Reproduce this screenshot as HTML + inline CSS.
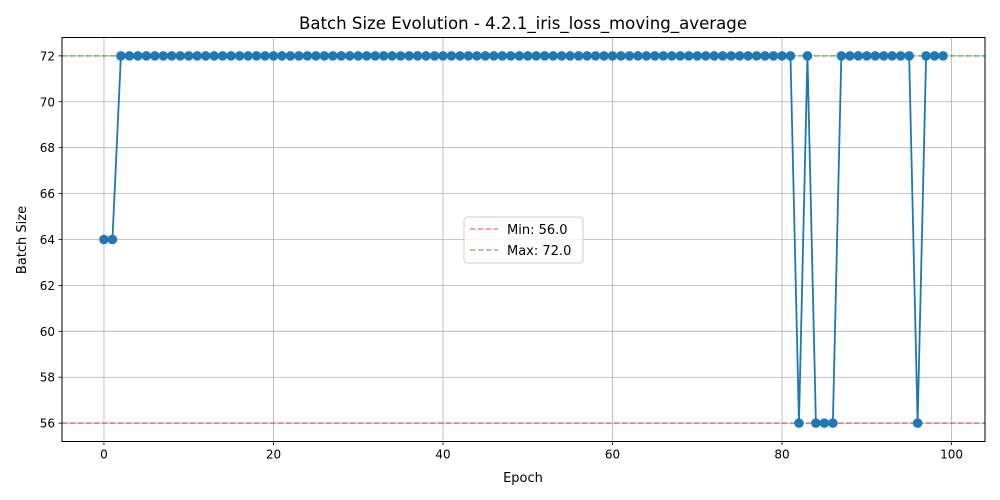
<!DOCTYPE html>
<html><head><meta charset="utf-8"><style>
body{margin:0;background:#fff;}
svg{display:block;font-family:"DejaVu Sans","Liberation Sans",sans-serif;}
</style></head><body>
<svg id="chart" width="1000" height="500" viewBox="0 0 1000 500" xmlns="http://www.w3.org/2000/svg">
<rect width="1000" height="500" fill="#fff"/>
<g id="grid"></g>
<g id="refs"></g>
<g id="series"></g>
<rect x="62" y="37.5" width="923" height="404" fill="none" stroke="#000" stroke-width="1"/>
<g id="axes" font-size="12" fill="#000"></g>
<text x="523" y="29" text-anchor="middle" font-size="16.6">Batch Size Evolution - 4.2.1_iris_loss_moving_average</text>
<text x="523" y="482" text-anchor="middle" font-size="13">Epoch</text>
<text transform="translate(26,240) rotate(-90)" text-anchor="middle" font-size="13">Batch Size</text>
<g>
<rect x="464" y="217" width="119" height="46" rx="3" fill="#fff" fill-opacity="0.8" stroke="#ccc"/>
<line x1="470" y1="229" x2="498" y2="229" stroke="#ff0000" stroke-opacity="0.5" stroke-width="1.5" stroke-dasharray="5.5,2.5"/>
<text x="507" y="234" font-size="13">Min: 56.0</text>
<line x1="470" y1="250" x2="498" y2="250" stroke="#008000" stroke-opacity="0.5" stroke-width="1.5" stroke-dasharray="5.5,2.5"/>
<text x="507" y="255" font-size="13">Max: 72.0</text>
</g>
</svg>
<script>
const epochs = Array.from({length:100},(_,i)=>i);
const batchSizes = [64,64,72,72,72,72,72,72,72,72,72,72,72,72,72,72,72,72,72,72,
72,72,72,72,72,72,72,72,72,72,72,72,72,72,72,72,72,72,72,72,
72,72,72,72,72,72,72,72,72,72,72,72,72,72,72,72,72,72,72,72,
72,72,72,72,72,72,72,72,72,72,72,72,72,72,72,72,72,72,72,72,
72,72,56,72,56,56,56,72,72,72,72,72,72,72,72,72,56,72,72,72];
const xTicks = [0,20,40,60,80,100];
const yTicks = [56,58,60,62,64,66,68,70,72];
const minVal = 56, maxVal = 72;
const NS="http://www.w3.org/2000/svg";
const L=62,R=985,T=37.5,B=441.5;
const xMin=-4.95,xMax=103.95,yMin=55.2,yMax=72.8;
const X=v=>L+(v-xMin)/(xMax-xMin)*(R-L);
const Y=v=>B-(v-yMin)/(yMax-yMin)*(B-T);
function mk(tag,attrs,parent){const e=document.createElementNS(NS,tag);for(const k in attrs)e.setAttribute(k,attrs[k]);parent.appendChild(e);return e;}
const grid=document.getElementById('grid'),axes=document.getElementById('axes');
xTicks.forEach(t=>{
  const gl=mk('line',{x1:X(t),x2:X(t),y1:T,y2:B,stroke:'#b0b0b0','stroke-width':0.8},grid);
  
  
  mk('line',{x1:X(t),x2:X(t),y1:B,y2:B+3.5,stroke:'#000','stroke-width':0.8},axes);
  const tx=mk('text',{x:X(t),y:B+17,'text-anchor':'middle'},axes);
  
  
  tx.textContent=t;
});
yTicks.forEach(t=>{
  const gl=mk('line',{x1:L,x2:R,y1:Y(t),y2:Y(t),stroke:'#b0b0b0','stroke-width':0.8},grid);
  
  
  mk('line',{x1:L-3.5,x2:L,y1:Y(t),y2:Y(t),stroke:'#000','stroke-width':0.8},axes);
  const tx=mk('text',{x:L-7,y:Y(t)+4.5,'text-anchor':'end'},axes);
  
  
  tx.textContent=t;
});
const refs=document.getElementById('refs');
const mn=mk('line',{x1:L,x2:R,y1:Y(minVal),y2:Y(minVal),stroke:'#ff0000','stroke-opacity':0.5,'stroke-width':1.5,'stroke-dasharray':'5.5,2.5'},refs);


const mx=mk('line',{x1:L,x2:R,y1:Y(maxVal),y2:Y(maxVal),stroke:'#008000','stroke-opacity':0.5,'stroke-width':1.5,'stroke-dasharray':'5.5,2.5'},refs);


const s=document.getElementById('series');
const pl=mk('polyline',{points:epochs.map((e,i)=>X(e)+','+Y(batchSizes[i])).join(' '),fill:'none',stroke:'#1f77b4','stroke-width':1.8},s);


epochs.forEach((e,i)=>{
  const c=mk('circle',{cx:X(e),cy:Y(batchSizes[i]),r:4.8,fill:'#1f77b4'},s);
  
  
});
</script>
</body></html>
